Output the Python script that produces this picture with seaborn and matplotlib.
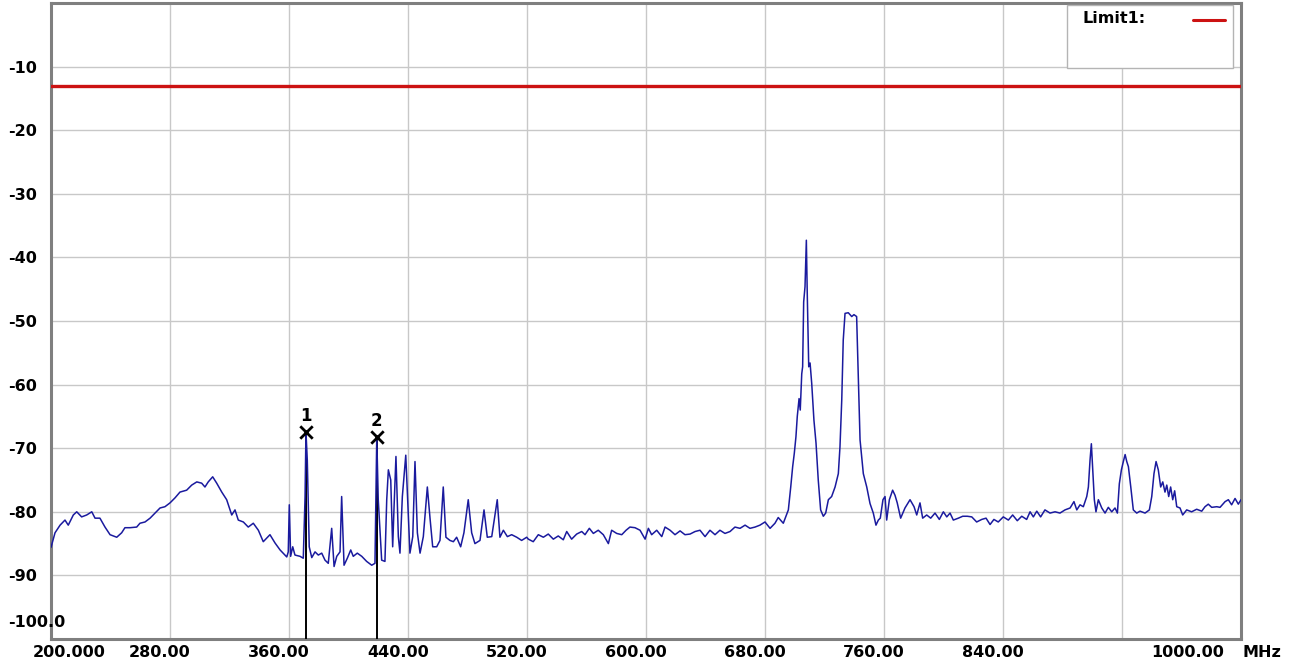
import numpy as np
import pandas as pd
import matplotlib
matplotlib.use("Agg")
import matplotlib.pyplot as plt
import seaborn as sns
from matplotlib.patches import Rectangle
from matplotlib.lines import Line2D
from matplotlib.transforms import ScaledTranslation

# spectrum trace (MHz, dBm)
freq_mhz = [
    200.0, 202.7, 206.1, 209.4, 211.6, 215.0, 217.3, 220.6, 224.0, 227.4,
    229.6, 232.9, 236.3, 239.7, 244.2, 247.5, 249.7, 253.1, 257.6, 259.8,
    263.2, 266.6, 269.9, 273.3, 276.6, 280.0, 283.4, 286.7, 291.2, 294.6,
    298.0, 301.3, 303.5, 305.7, 308.7, 311.4, 314.8, 318.1, 321.5, 323.7,
    325.9, 329.3, 332.6, 336.0, 339.4, 342.7, 347.2, 350.6, 354.0, 358.5,
    359.5, 360.2, 361.1, 362.5, 364.0, 367.4, 369.6, 370.8, 371.4, 372.3,
    373.6, 375.3, 377.5, 379.7, 382.0, 384.2, 386.4, 388.7, 390.3, 392.1,
    394.3, 395.4, 397.0, 399.2, 401.5, 403.2, 405.9, 408.9, 412.2, 415.6,
    417.8, 419.0, 420.0, 422.3, 424.5, 425.7, 426.8, 428.4, 429.7, 430.6,
    431.9, 433.5, 434.6, 436.2, 438.5, 439.8, 441.3, 443.2, 444.7, 446.3,
    448.1, 450.3, 453.0, 454.8, 456.6, 459.3, 461.5, 463.7, 465.5, 468.2,
    470.5, 472.7, 475.4, 477.6, 480.5, 482.8, 485.0, 488.4, 491.1, 493.3,
    496.3, 500.0, 501.8, 504.1, 506.8, 509.7, 513.1, 516.4, 519.8, 520.9,
    524.2, 527.6, 531.0, 534.3, 537.7, 541.0, 544.4, 546.7, 550.0, 553.4,
    556.8, 559.0, 561.9, 564.6, 567.9, 571.3, 574.7, 576.9, 580.3, 583.7,
    586.6, 589.2, 592.6, 596.0, 599.4, 601.6, 603.8, 607.2, 610.6, 612.8,
    616.2, 619.5, 622.9, 626.2, 629.6, 633.0, 636.3, 639.7, 643.0, 646.4,
    649.7, 653.1, 656.5, 659.8, 663.2, 666.6, 669.9, 673.3, 676.6, 680.0,
    683.4, 686.7, 688.9, 692.3, 694.1, 695.7, 697.3, 698.6, 699.7, 700.8,
    701.7, 702.9, 703.7, 704.7, 705.3, 706.0, 706.9, 707.8, 708.4, 709.4,
    710.3, 711.4, 712.9, 714.3, 715.8, 717.4, 719.2, 720.8, 722.6, 724.8,
    727.1, 729.3, 730.4, 731.6, 732.6, 733.8, 736.0, 738.3, 739.8, 741.6,
    742.7, 743.9, 746.1, 748.4, 750.6, 752.8, 754.6, 756.2, 757.5, 759.3,
    760.7, 761.8, 763.6, 765.8, 767.4, 768.9, 771.2, 774.1, 777.5, 780.2,
    782.0, 784.2, 786.0, 788.7, 791.4, 794.3, 797.2, 799.9, 802.2, 804.4,
    806.6, 810.0, 812.9, 816.0, 819.0, 822.3, 825.7, 828.6, 831.3, 833.9,
    836.8, 840.2, 843.6, 846.5, 849.6, 852.6, 855.9, 858.2, 860.4, 862.7,
    865.3, 868.2, 871.6, 875.0, 878.3, 881.7, 885.1, 887.7, 889.6, 891.8,
    894.0, 896.3, 897.4, 898.5, 899.4, 900.3, 901.4, 902.5, 904.1, 906.4,
    908.6, 910.8, 913.1, 915.3, 916.9, 918.2, 919.6, 920.9, 922.1, 923.2,
    924.3, 925.9, 927.6, 929.9, 932.1, 935.5, 938.4, 940.0, 941.5, 942.9,
    944.4, 946.0, 947.4, 948.9, 950.1, 951.4, 952.7, 954.1, 955.4, 956.8,
    959.0, 960.8, 963.5, 966.8, 970.2, 973.6, 975.8, 978.0, 980.3, 983.7,
    985.9, 989.3, 991.5, 993.7, 996.0, 998.2, 1000.0,
]
level_dbm = [
    -85.6, -83.3, -82.1, -81.3, -82.1, -80.5, -80.0, -80.8, -80.5, -80.0,
    -81.0, -81.0, -82.4, -83.6, -84.0, -83.3, -82.5, -82.5, -82.4, -81.8,
    -81.6, -81.0, -80.2, -79.4, -79.2, -78.6, -77.8, -76.9, -76.6, -75.8,
    -75.3, -75.5, -76.1, -75.3, -74.5, -75.5, -76.9, -78.1, -80.5, -79.7,
    -81.3, -81.6, -82.4, -81.8, -82.9, -84.7, -83.6, -84.9, -86.0, -87.1,
    -86.3, -78.9, -87.0, -85.5, -86.8, -87.0, -87.3, -77.6, -67.4, -71.9,
    -85.5, -87.2, -86.3, -86.8, -86.5, -87.6, -88.1, -82.6, -88.6, -87.0,
    -86.3, -77.6, -88.4, -87.3, -86.0, -87.0, -86.5, -87.0, -87.8, -88.4,
    -88.1, -68.2, -78.1, -87.6, -87.8, -78.1, -73.4, -75.0, -85.5, -79.4,
    -71.3, -83.9, -86.5, -77.6, -71.1, -78.1, -86.5, -83.9, -72.1, -83.3,
    -86.5, -83.9, -76.1, -81.0, -85.5, -85.5, -84.5, -76.1, -84.0, -84.5,
    -84.7, -84.0, -85.5, -83.3, -78.1, -83.3, -85.0, -84.5, -79.7, -84.0,
    -83.9, -78.1, -84.0, -82.9, -83.9, -83.6, -84.0, -84.5, -84.0, -84.3,
    -84.7, -83.6, -84.0, -83.5, -84.3, -83.8, -84.4, -83.1, -84.3, -83.5,
    -83.1, -83.6, -82.6, -83.4, -82.9, -83.6, -85.0, -82.9, -83.4, -83.6,
    -82.9, -82.4, -82.5, -82.9, -84.3, -82.6, -83.6, -82.9, -83.9, -82.4,
    -82.9, -83.6, -83.0, -83.6, -83.5, -83.1, -82.9, -83.9, -82.9, -83.6,
    -82.9, -83.4, -83.1, -82.4, -82.6, -82.1, -82.6, -82.4, -82.1, -81.6,
    -82.6, -81.8, -80.9, -81.8, -80.7, -79.7, -76.1, -72.9, -70.8, -68.2,
    -65.0, -62.2, -64.0, -58.3, -57.2, -47.0, -44.6, -37.3, -45.6, -57.2,
    -56.6, -59.8, -65.6, -69.2, -75.0, -79.7, -80.7, -80.2, -78.1, -77.6,
    -76.1, -74.0, -69.8, -62.4, -53.0, -48.8, -48.7, -49.3, -49.0, -49.3,
    -58.3, -68.7, -74.0, -76.1, -78.7, -80.2, -82.1, -81.3, -81.0, -78.1,
    -77.6, -81.3, -78.1, -76.6, -77.4, -78.6, -81.0, -79.4, -78.1, -79.2,
    -80.5, -78.6, -81.0, -80.5, -81.0, -80.2, -81.2, -80.0, -80.8, -80.2,
    -81.3, -81.0, -80.7, -80.7, -80.8, -81.6, -81.2, -81.0, -82.0, -81.2,
    -81.6, -80.8, -81.3, -80.5, -81.4, -80.7, -81.2, -80.0, -80.8, -79.9,
    -80.8, -79.7, -80.2, -80.0, -80.2, -79.7, -79.4, -78.4, -79.7, -78.9,
    -79.2, -77.6, -76.1, -71.9, -69.3, -73.4, -78.1, -80.0, -78.1, -79.4,
    -80.2, -79.3, -80.0, -79.4, -80.2, -75.6, -73.4, -72.1, -71.0, -72.1,
    -72.9, -76.1, -79.7, -80.2, -79.9, -80.2, -79.7, -77.6, -74.0, -72.1,
    -73.4, -76.1, -75.3, -76.9, -75.8, -77.6, -76.1, -78.1, -76.7, -79.2,
    -79.4, -80.5, -79.7, -80.0, -79.6, -79.9, -79.2, -78.8, -79.3, -79.2,
    -79.3, -78.4, -78.1, -78.9, -77.9, -78.8, -78.1,
]

limit_dbm = -13.0
limit_label = "Limit1:"

marker_ids = ["1", "2"]
marker_freq = [371.4, 419.0]
marker_level = [-67.4, -68.2]

xtick_values = [200, 280, 360, 440, 520, 600, 680, 760, 840, 920, 1000]
xtick_labels = ["200.000", "280.00", "360.00", "440.00", "520.00", "600.00",
                "680.00", "760.00", "840.00", "", "1000.00"]
ytick_values = [-90, -80, -70, -60, -50, -40, -30, -20, -10]
ytick_labels = ["-90", "-80", "-70", "-60", "-50", "-40", "-30", "-20", "-10"]
bottom_label = "-100.0"
unit_label = "MHz"

df = pd.DataFrame({"freq": freq_mhz, "level": level_dbm})

sns.set_style("white")
plt.rcParams["font.family"] = ["DejaVu Sans"]
plt.rcParams["font.weight"] = "bold"
plt.rcParams["text.color"] = "black"
plt.rcParams["xtick.color"] = "black"
plt.rcParams["ytick.color"] = "black"

W, H = 1295, 668
fig = plt.figure(figsize=(W / 100, H / 100), dpi=100)
ax = fig.add_axes([51 / W, 29 / H, 1190 / W, 636 / H])

# marker stems first so the trace sits on top of them
ax.vlines(marker_freq, -100, marker_level, colors="black", lw=1.4, zorder=3)

sns.lineplot(data=df, x="freq", y="level", ax=ax, color="#1a1a9e", lw=1.1,
             estimator=None, sort=False, zorder=4)

ax.axhline(limit_dbm, color="#cc1212", lw=2.4, zorder=3)

ax.scatter(marker_freq, marker_level, marker="x", s=80, c="black",
           linewidths=2.0, zorder=6)
for mid, f, lv in zip(marker_ids, marker_freq, marker_level):
    ax.annotate(mid, (f, lv), xytext=(0, 7), textcoords="offset pixels",
                ha="center", va="bottom", fontsize=12, fontweight="bold",
                color="black", zorder=6)

ax.set_xlim(200, 1000)
ax.set_ylim(-100, 0)
ax.set_xlabel("")
ax.set_ylabel("")

ax.set_xticks(xtick_values)
ax.set_xticklabels(xtick_labels, fontsize=11.5, fontweight="bold", color="black")
ax.set_yticks(ytick_values)
ax.set_yticklabels(ytick_labels, fontsize=11.5, fontweight="bold", ha="left",
                   color="black")
ax.tick_params(axis="x", length=0, pad=4)
ax.tick_params(axis="y", length=0, pad=31)

# nudge the x labels the way the analyser draws them
labels = ax.get_xticklabels()
for i, lab in enumerate(labels):
    if i == 0:
        lab.set_ha("left")
        dx = -18
    elif i == len(labels) - 1:
        lab.set_ha("right")
        dx = -17
    else:
        dx = -10
    lab.set_transform(lab.get_transform() + ScaledTranslation(dx / 100, 0, fig.dpi_scale_trans))

ax.grid(True, color="#c8c8c8", lw=1.0)
ax.set_axisbelow(True)
for sp in ax.spines.values():
    sp.set_color("#7f7f7f")
    sp.set_linewidth(2.2)
    sp.set_visible(True)

ax.annotate(bottom_label, xy=(0, -100), xycoords=("axes fraction", "data"),
            xytext=(-43, 9), textcoords="offset pixels", ha="left", va="bottom",
            fontsize=11.5, fontweight="bold", color="black")
ax.annotate(unit_label, xy=(1, 0), xycoords="axes fraction", xytext=(2, -6),
            textcoords="offset pixels", ha="left", va="top", color="black",
            fontsize=11.5, fontweight="bold", annotation_clip=False)

# limit legend box in the upper right corner
ax.add_patch(Rectangle((0.8538, 0.8978), 0.1395, 0.0991, transform=ax.transAxes,
                       facecolor="white", edgecolor="#b4b4b4", lw=1.0, zorder=7))
ax.text(0.8664, 0.9764, limit_label, transform=ax.transAxes, ha="left",
        va="center", fontsize=11.5, fontweight="bold", color="black", zorder=8)
ax.add_line(Line2D([0.9597, 0.9866], [0.9733, 0.9733], transform=ax.transAxes,
                   color="#cc1212", lw=2.2, zorder=8))

fig.savefig("out.png", dpi=100, facecolor="white")
